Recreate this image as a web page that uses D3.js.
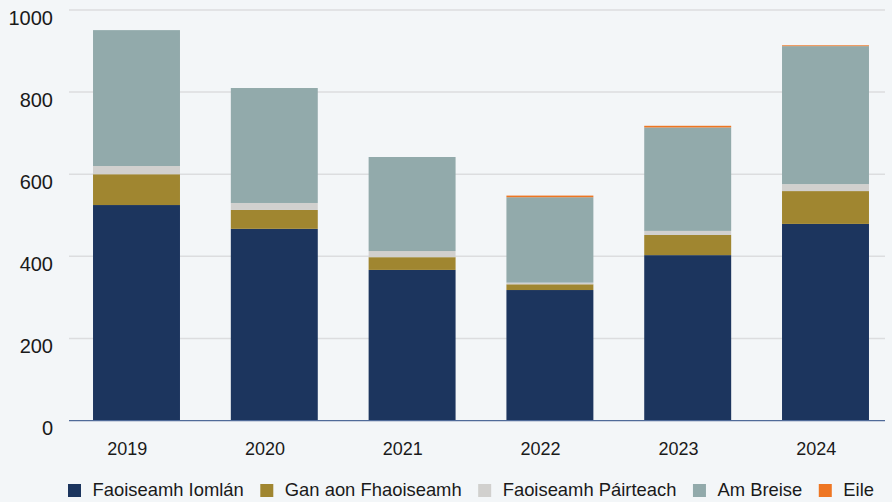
<!DOCTYPE html>
<html>
<head>
<meta charset="utf-8">
<script src="https://cdn.jsdelivr.net/npm/d3@7/dist/d3.min.js"></script>
<style>
  html, body { margin: 0; padding: 0; background: #f3f6f8; }
  svg { display: block; }
  text { font-family: "Liberation Sans", Arial, Helvetica, sans-serif; fill: #1a1a1a; }
</style>
</head>
<body>
<svg id="chart" width="892" height="502"></svg>
<script>
const years = ["2019", "2020", "2021", "2022", "2023", "2024"];
const seriesNames = ["Faoiseamh Iomlán", "Gan aon Fhaoiseamh", "Faoiseamh Páirteach", "Am Breise", "Eile"];
const seriesColors = ["#1c355e", "#a08630", "#d1d0ce", "#92aaab", "#ee7623"];
const faoiseamhIomlan   = [525, 467, 367, 318, 403, 479];
const ganAonFhaoiseamh  = [75, 46, 31, 14, 49, 80];
const faoiseamhPairteach = [20, 17, 15, 4, 10, 17];
const amBreise          = [331, 280, 229, 208, 252, 336];
const eile              = [0, 0, 0, 4, 4, 2];
const yTicks = [0, 200, 400, 600, 800, 1000];

const seriesValues = [faoiseamhIomlan, ganAonFhaoiseamh, faoiseamhPairteach, amBreise, eile];
const table = years.map((y, i) => {
  const row = { year: y };
  seriesNames.forEach((s, k) => row[s] = seriesValues[k][i]);
  return row;
});

const svg = d3.select("#chart");
const gridX0 = 69, gridX1 = 885;

const y = d3.scaleLinear().domain([0, 1000]).range([420.6, 10]);
const x = d3.scaleBand().domain(years).range([67.6, 894.4]).paddingInner(0.369).paddingOuter(0.1845);

// gridlines
svg.append("g").selectAll("line").data(yTicks.filter(t => t > 0)).join("line")
  .attr("x1", gridX0).attr("x2", gridX1)
  .attr("y1", d => y(d)).attr("y2", d => y(d))
  .attr("stroke", "#dcdddf").attr("stroke-width", 1.5);

// y tick labels
svg.append("g").selectAll("text").data(yTicks).join("text")
  .attr("x", 53).attr("y", d => y(d) + 14.8)
  .attr("text-anchor", "end")
  .attr("font-size", 20)
  .text(d => d);

// bars
const stack = d3.stack().keys(seriesNames);
const stacked = stack(table);
svg.append("g").selectAll("g").data(stacked).join("g")
  .attr("fill", (d, i) => seriesColors[i])
  .selectAll("rect").data(d => d).join("rect")
  .attr("x", d => x(d.data.year))
  .attr("width", x.bandwidth())
  .attr("y", d => y(d[1]))
  .attr("height", d => Math.max(0, y(d[0]) - y(d[1])));

// baseline axis
svg.append("line")
  .attr("x1", gridX0).attr("x2", gridX1)
  .attr("y1", y(0)).attr("y2", y(0))
  .attr("stroke", "#4f6a98").attr("stroke-width", 1.2);

// x labels
svg.append("g").selectAll("text").data(years).join("text")
  .attr("x", d => x(d) + x.bandwidth() / 2 - 9.3)
  .attr("y", 455)
  .attr("text-anchor", "middle")
  .attr("font-size", 18)
  .text(d => d);

// legend
const legend = svg.append("g");
let lx = 68;
seriesNames.forEach((name, i) => {
  legend.append("rect")
    .attr("x", lx).attr("y", 484).attr("width", 13).attr("height", 13)
    .attr("fill", seriesColors[i]);
  const t = legend.append("text")
    .attr("x", lx + 24.5).attr("y", 496)
    .attr("font-size", 18.4)
    .text(name);
  const w = t.node().getComputedTextLength();
  lx = lx + 24.5 + w + 16.5;
});
</script>
</body>
</html>
